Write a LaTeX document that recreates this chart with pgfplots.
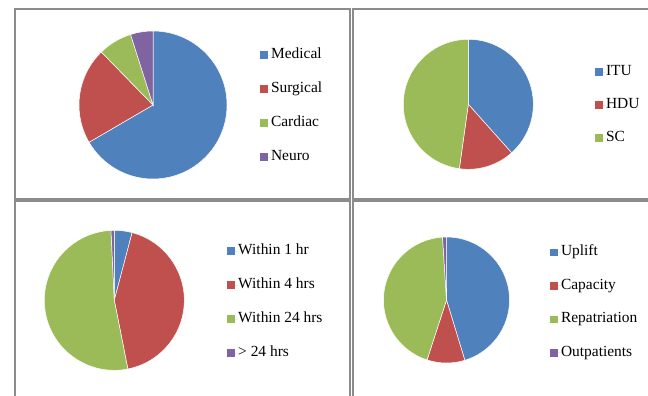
\documentclass[border=0pt]{standalone}
\usepackage{pgfplots}
\pgfplotsset{compat=1.18}
\usepackage{pgfplotstable}
\usepackage{fontspec}
\setmainfont{Liberation Serif}

\definecolor{pieblue}{HTML}{4F81BD}
\definecolor{piered}{HTML}{C0504D}
\definecolor{piegreen}{HTML}{9BBB59}
\definecolor{piepurple}{HTML}{8064A2}
\definecolor{panelframe}{HTML}{8C8C8C}

% Shares in percent, listed clockwise from 12 o'clock
\pgfplotstableread[col sep=comma]{
label,value,color
Medical,66.6,pieblue
Surgical,21.1,piered
Cardiac,7.4,piegreen
Neuro,4.9,piepurple
}\specialty

\pgfplotstableread[col sep=comma]{
label,value,color
ITU,38.4,pieblue
HDU,13.8,piered
SC,47.8,piegreen
}\carelevel

\pgfplotstableread[col sep=comma]{
label,value,color
Within 1 hr,4.1,pieblue
Within 4 hrs,42.8,piered
Within 24 hrs,52.35,piegreen
> 24 hrs,0.75,piepurple
}\timing

\pgfplotstableread[col sep=comma]{
label,value,color
Uplift,45.3,pieblue
Capacity,9.7,piered
Repatriation,44.0,piegreen
Outpatients,1.0,piepurple
}\reason

\pgfplotsset{
  pie panel/.style={
    hide axis, x=#1bp, y=#1bp,
    xmin=-1, xmax=1, ymin=-1, ymax=1,
    anchor=center, clip=false,
    legend image code/.code={
      \fill (0bp,-3.75bp) rectangle (7.5bp,3.75bp);
      \path (0bp,0bp) -- (11bp,0bp);
    },
    legend cell align=left,
    legend style={draw=none, fill=none, inner sep=0pt, anchor=west,
      font=\fontsize{15.5}{18}\selectfont, row sep=21bp,
      nodes={inner sep=0pt, text height=10bp, text depth=3bp}},
  },
}

% Slices of a pie, clockwise from the top, plus one legend entry per slice
\newcommand\drawpie[2]{%
  \pgfplotstablegetrowsof{#1}%
  \pgfmathtruncatemacro\lastrow{\pgfplotsretval-1}%
  \def\cum{0}%
  \pgfplotsforeachungrouped \rowidx in {0,...,\lastrow}{%
    \pgfplotstablegetelem{\rowidx}{value}\of{#1}\let\val\pgfplotsretval
    \pgfplotstablegetelem{\rowidx}{color}\of{#1}\let\col\pgfplotsretval
    \pgfplotstablegetelem{\rowidx}{label}\of{#1}\let\lab\pgfplotsretval
    \pgfmathsetmacro\sa{90-3.6*\cum}%
    \pgfmathsetmacro\cum{\cum+\val}%
    \pgfmathsetmacro\ea{90-3.6*\cum}%
    \edef\temp{%
      \noexpand\fill[\col, draw=white, line width=0.5bp]
        (axis cs:0,0) -- (axis cs:{cos(\sa)},{sin(\sa)})
        arc[start angle=\sa, end angle=\ea, radius=#2bp] -- cycle;
      \noexpand\addlegendimage{fill=\col, draw=none}%
      \noexpand\addlegendentry{\lab}%
    }%
    \temp
  }%
}

\begin{document}
\begin{tikzpicture}[x=1bp, y=1bp]
\path[use as bounding box] (0,0) rectangle (648,395);
\clip (0,0) rectangle (648,395);

% panel frames
\begin{scope}[panelframe, line width=2bp]
  \draw (15,385.5) rectangle (350,196);
  \draw (352.5,385.5) rectangle (670,196);
  \draw (15,194) rectangle (350,-20);
  \draw (352.5,194) rectangle (670,-20);
\end{scope}

\begin{axis}[pie panel=74, at={(153bp,290bp)}, legend style={at={(1.222,0.493)}}]
  \drawpie{\specialty}{74}
\end{axis}

\begin{axis}[pie panel=65, at={(468.3bp,290.7bp)}, legend style={at={(1.473,0.494)}, row sep=20bp}]
  \drawpie{\carelevel}{65}
\end{axis}

\begin{axis}[pie panel=70, at={(114.3bp,94.7bp)}, legend style={at={(1.305,0.487)}}]
  \drawpie{\timing}{70}
\end{axis}

\begin{axis}[pie panel=63, at={(446.5bp,95bp)}, legend style={at={(1.320,0.480)}, row sep=20.5bp}]
  \drawpie{\reason}{63}
\end{axis}
\end{tikzpicture}
\end{document}
